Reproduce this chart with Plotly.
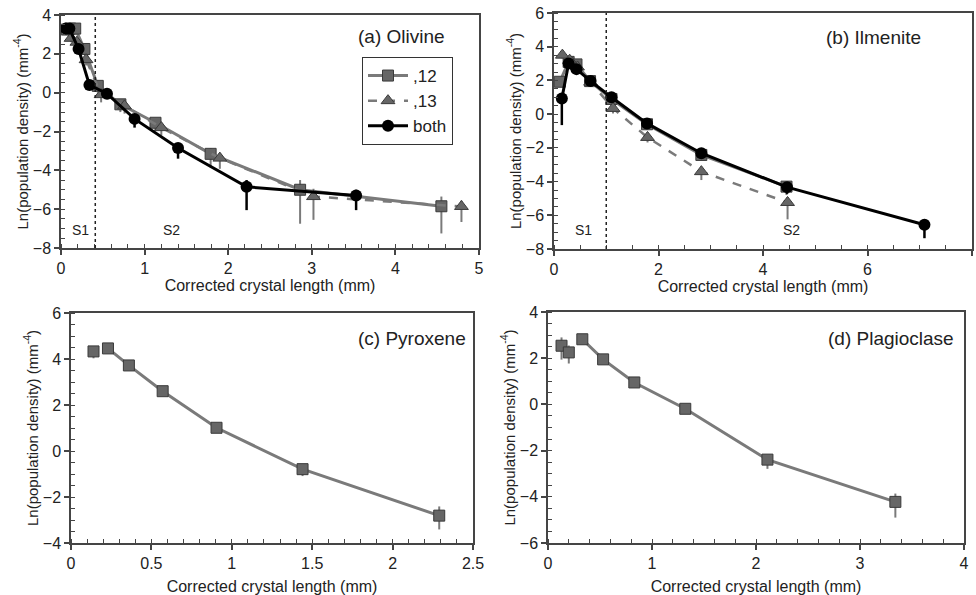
import plotly.graph_objects as go

# ---------------- data ----------------
# (a) Olivine
ol12_x = [0.07, 0.11, 0.17, 0.28, 0.44, 0.71, 1.13, 1.79, 2.86, 4.55]
ol12_y = [3.25, 3.3, 3.3, 2.25, 0.35, -0.6, -1.55, -3.15, -5.0, -5.85]
ol12_ep = [0.1, 0.1, 0.1, 0.15, 0.15, 0.15, 0.15, 0.3, 0.5, 0.5]
ol12_em = [0.2, 0.2, 0.2, 0.3, 0.35, 0.4, 0.4, 0.7, 1.75, 1.4]

ol13_x = [0.075, 0.12, 0.19, 0.3, 0.48, 0.76, 1.2, 1.9, 3.02, 4.79]
ol13_y = [3.15, 2.8, 2.6, 1.7, -0.1, -0.68, -1.8, -3.37, -5.35, -5.86]
ol13_ep = [0.1, 0.1, 0.1, 0.1, 0.1, 0.15, 0.15, 0.2, 0.4, 0.3]
ol13_em = [0.2, 0.2, 0.2, 0.3, 0.4, 0.4, 0.4, 0.55, 1.2, 0.8]

olb_x = [0.06, 0.1, 0.21, 0.34, 0.55, 0.88, 1.40, 2.22, 3.53]
olb_y = [3.3, 3.3, 2.25, 0.4, -0.05, -1.35, -2.85, -4.85, -5.3]
olb_ep = [0.1, 0.1, 0.1, 0.1, 0.1, 0.1, 0.2, 0.35, 0.3]
olb_em = [0.15, 0.15, 0.2, 0.2, 0.25, 0.45, 0.55, 1.2, 0.75]
ol_boundary = 0.41

# (b) Ilmenite
il12_x = [0.11, 0.28, 0.43, 0.69, 1.1, 1.78, 2.82, 4.45]
il12_y = [1.92, 3.1, 2.95, 1.96, 0.9, -0.6, -2.42, -4.3]
il12_ep = [0.2, 0.1, 0.1, 0.1, 0.1, 0.1, 0.15, 0.2]
il12_em = [0.3, 0.2, 0.2, 0.2, 0.2, 0.25, 0.3, 0.5]

il13_x = [0.16, 0.3, 0.45, 0.7, 1.13, 1.79, 2.82, 4.47]
il13_y = [3.5, 3.2, 2.8, 1.9, 0.34, -1.38, -3.41, -5.24]
il13_ep = [0.1, 0.1, 0.1, 0.1, 0.1, 0.1, 0.2, 0.3]
il13_em = [0.2, 0.2, 0.2, 0.2, 0.3, 0.3, 0.5, 1.0]

ilb_x = [0.15, 0.28, 0.43, 0.7, 1.1, 1.78, 2.82, 4.46, 7.09]
ilb_y = [0.93, 3.0, 2.67, 1.96, 1.0, -0.55, -2.32, -4.33, -6.56]
ilb_ep = [0.3, 0.1, 0.1, 0.1, 0.1, 0.1, 0.15, 0.2, 0.2]
ilb_em = [1.58, 0.2, 0.2, 0.2, 0.2, 0.3, 0.3, 0.4, 0.8]
il_boundary = 1.0

# (c) Pyroxene
px_x = [0.14, 0.23, 0.36, 0.57, 0.905, 1.44, 2.29]
px_y = [4.33, 4.46, 3.72, 2.6, 1.01, -0.79, -2.81]
px_ep = [0.1, 0.1, 0.1, 0.1, 0.1, 0.1, 0.4]
px_em = [0.3, 0.1, 0.1, 0.1, 0.1, 0.3, 0.6]
px_line_start = 1

# (d) Plagioclase
pl_x = [0.13, 0.20, 0.33, 0.53, 0.83, 1.32, 2.11, 3.34]
pl_y = [2.54, 2.25, 2.82, 1.95, 0.95, -0.19, -2.39, -4.22]
pl_ep = [0.36, 0.3, 0.1, 0.1, 0.1, 0.1, 0.1, 0.36]
pl_em = [0.6, 0.48, 0.1, 0.1, 0.1, 0.1, 0.4, 0.68]
pl_line_start = 2

# labels
panel_titles = ["(a) Olivine", "(b) Ilmenite", "(c) Pyroxene", "(d) Plagioclase"]
legend_names = [",12", ",13", "both"]
stage_labels = ["S1", "S2"]
ol_stage_x = [0.23, 1.32]
il_stage_x = [0.56, 4.54]
ol_stage_y = -7.05
il_stage_y = -6.85

# ---------------- style ----------------
FONT = "Liberation Sans, Arial, sans-serif"
GRAY = "#7a7a7a"
MFILL = "#666666"
MEDGE = "#3a3a3a"
AXC = "#454545"

fig = go.Figure()


def err(ep, em, color, th):
    return dict(type="data", symmetric=False, array=ep, arrayminus=em,
                color=color, thickness=th, width=0)


def add_sq(x, y, ep, em, xa, ya, name=None, show=False, mode="lines+markers"):
    fig.add_trace(go.Scatter(
        x=x, y=y, mode=mode, name=name, showlegend=show, xaxis=xa, yaxis=ya,
        line=dict(color=GRAY, width=3),
        marker=dict(symbol="square", size=11, color=MFILL, line=dict(color=MEDGE, width=1)),
        error_y=err(ep, em, GRAY, 2)))


def add_tri(x, y, ep, em, xa, ya, name=None, show=False):
    fig.add_trace(go.Scatter(
        x=x, y=y, mode="lines+markers", name=name, showlegend=show, xaxis=xa, yaxis=ya,
        line=dict(color=GRAY, width=2.5, dash="dash"),
        marker=dict(symbol="triangle-up", size=12, color=MFILL, line=dict(color=MEDGE, width=1)),
        error_y=err(ep, em, GRAY, 2)))


def add_circ(x, y, ep, em, xa, ya, name=None, show=False):
    fig.add_trace(go.Scatter(
        x=x, y=y, mode="lines+markers", name=name, showlegend=show, xaxis=xa, yaxis=ya,
        line=dict(color="black", width=3),
        marker=dict(symbol="circle", size=12, color="black"),
        error_y=err(ep, em, "black", 2.5)))


# (a)
add_sq(ol12_x, ol12_y, ol12_ep, ol12_em, "x", "y", legend_names[0], True)
add_tri(ol13_x, ol13_y, ol13_ep, ol13_em, "x", "y", legend_names[1], True)
add_circ(olb_x, olb_y, olb_ep, olb_em, "x", "y", legend_names[2], True)
# (b)
add_sq(il12_x, il12_y, il12_ep, il12_em, "x2", "y2")
add_tri(il13_x, il13_y, il13_ep, il13_em, "x2", "y2")
add_circ(ilb_x, ilb_y, ilb_ep, ilb_em, "x2", "y2")
# (c)
s = px_line_start
add_sq(px_x[:s], px_y[:s], px_ep[:s], px_em[:s], "x3", "y3", mode="markers")
add_sq(px_x[s:], px_y[s:], px_ep[s:], px_em[s:], "x3", "y3")
# (d)
s = pl_line_start
add_sq(pl_x[:s], pl_y[:s], pl_ep[:s], pl_em[:s], "x4", "y4", mode="markers")
add_sq(pl_x[s:], pl_y[s:], pl_ep[s:], pl_em[s:], "x4", "y4")

W, H = 976, 595


def dom_x(a, b):
    return [a / W, b / W]


def dom_y(top, bot):
    return [1 - bot / H, 1 - top / H]


def xax(domain, rng, dtick, minor, anchor, standoff):
    return dict(domain=domain, range=rng, dtick=dtick, anchor=anchor,
                showline=True, mirror=True, linecolor=AXC, linewidth=1.5,
                ticks="outside", ticklen=5, tickwidth=1.5, tickcolor=AXC,
                minor=dict(dtick=minor, ticks="inside", ticklen=4, tickwidth=1, tickcolor=AXC),
                showgrid=False, zeroline=False, automargin=False,
                tickfont=dict(size=16, color="#222"),
                title=dict(text="Corrected crystal length (mm)", font=dict(size=16, color="#222"),
                           standoff=standoff))


def yax(domain, rng, anchor):
    return dict(domain=domain, range=rng, dtick=2, anchor=anchor,
                showline=True, mirror=True, linecolor=AXC, linewidth=1.5,
                ticks="outside", ticklen=5, tickwidth=1.5, tickcolor=AXC,
                minor=dict(dtick=0.5, ticks="inside", ticklen=4, tickwidth=1, tickcolor=AXC),
                showgrid=False, zeroline=False, automargin=False,
                tickfont=dict(size=16, color="#222"),
                title=dict(text="Ln(population density) (mm<sup>-4</sup>)",
                           font=dict(size=15, color="#222"), standoff=1))


fig.update_layout(
    width=W, height=H, margin=dict(l=0, r=0, t=0, b=0),
    paper_bgcolor="white", plot_bgcolor="white",
    font=dict(family=FONT, color="#222"),
    xaxis=xax(dom_x(61, 479), [0, 5], 1, 0.2, "y", 3),
    yaxis=yax(dom_y(15, 248), [-8, 4], "x"),
    xaxis2=xax(dom_x(554, 972), [0, 8], 2, 0.5, "y2", 0),
    yaxis2=yax(dom_y(13, 249), [-8, 6], "x2"),
    xaxis3=xax(dom_x(71, 473), [0, 2.5], 0.5, 0.1, "y3", 10),
    yaxis3=yax(dom_y(313, 543), [-4, 6], "x3"),
    xaxis4=xax(dom_x(548, 964), [0, 4], 1, 0.2, "y4", 10),
    yaxis4=yax(dom_y(312, 543), [-6, 4], "x4"),
    legend=dict(x=362 / W, y=1 - 57 / H, xanchor="left", yanchor="top",
                bordercolor="#333", borderwidth=1, bgcolor="white",
                font=dict(size=17, color="#222"), itemwidth=40,
                tracegroupgap=0),
)

# dashed stage boundaries
for xa, ya, xb in [("x", "y", ol_boundary), ("x2", "y2", il_boundary)]:
    fig.add_shape(type="line", xref=xa, yref=ya + " domain", x0=xb, x1=xb, y0=0, y1=1,
                  line=dict(color="#222", width=1.5, dash="dot"))

# stage labels
for xs, ys, xa, ya in [(ol_stage_x, ol_stage_y, "x", "y"), (il_stage_x, il_stage_y, "x2", "y2")]:
    for lab, xv in zip(stage_labels, xs):
        fig.add_annotation(x=xv, y=ys, xref=xa, yref=ya, text=lab, showarrow=False,
                           font=dict(size=14, color="#222"))

# panel titles
title_pos = [("x", "y", 0.923, 0.906), ("x2", "y2", 0.883, 0.898),
             ("x3", "y3", 0.988, 0.887), ("x4", "y4", 0.98, 0.887)]
for t, (xa, ya, xp, yp) in zip(panel_titles, title_pos):
    fig.add_annotation(x=xp, y=yp, xref=xa + " domain", yref=ya + " domain", text=t,
                       showarrow=False, xanchor="right", yanchor="middle",
                       font=dict(size=19, color="#222"))

fig.write_html("out.html")
